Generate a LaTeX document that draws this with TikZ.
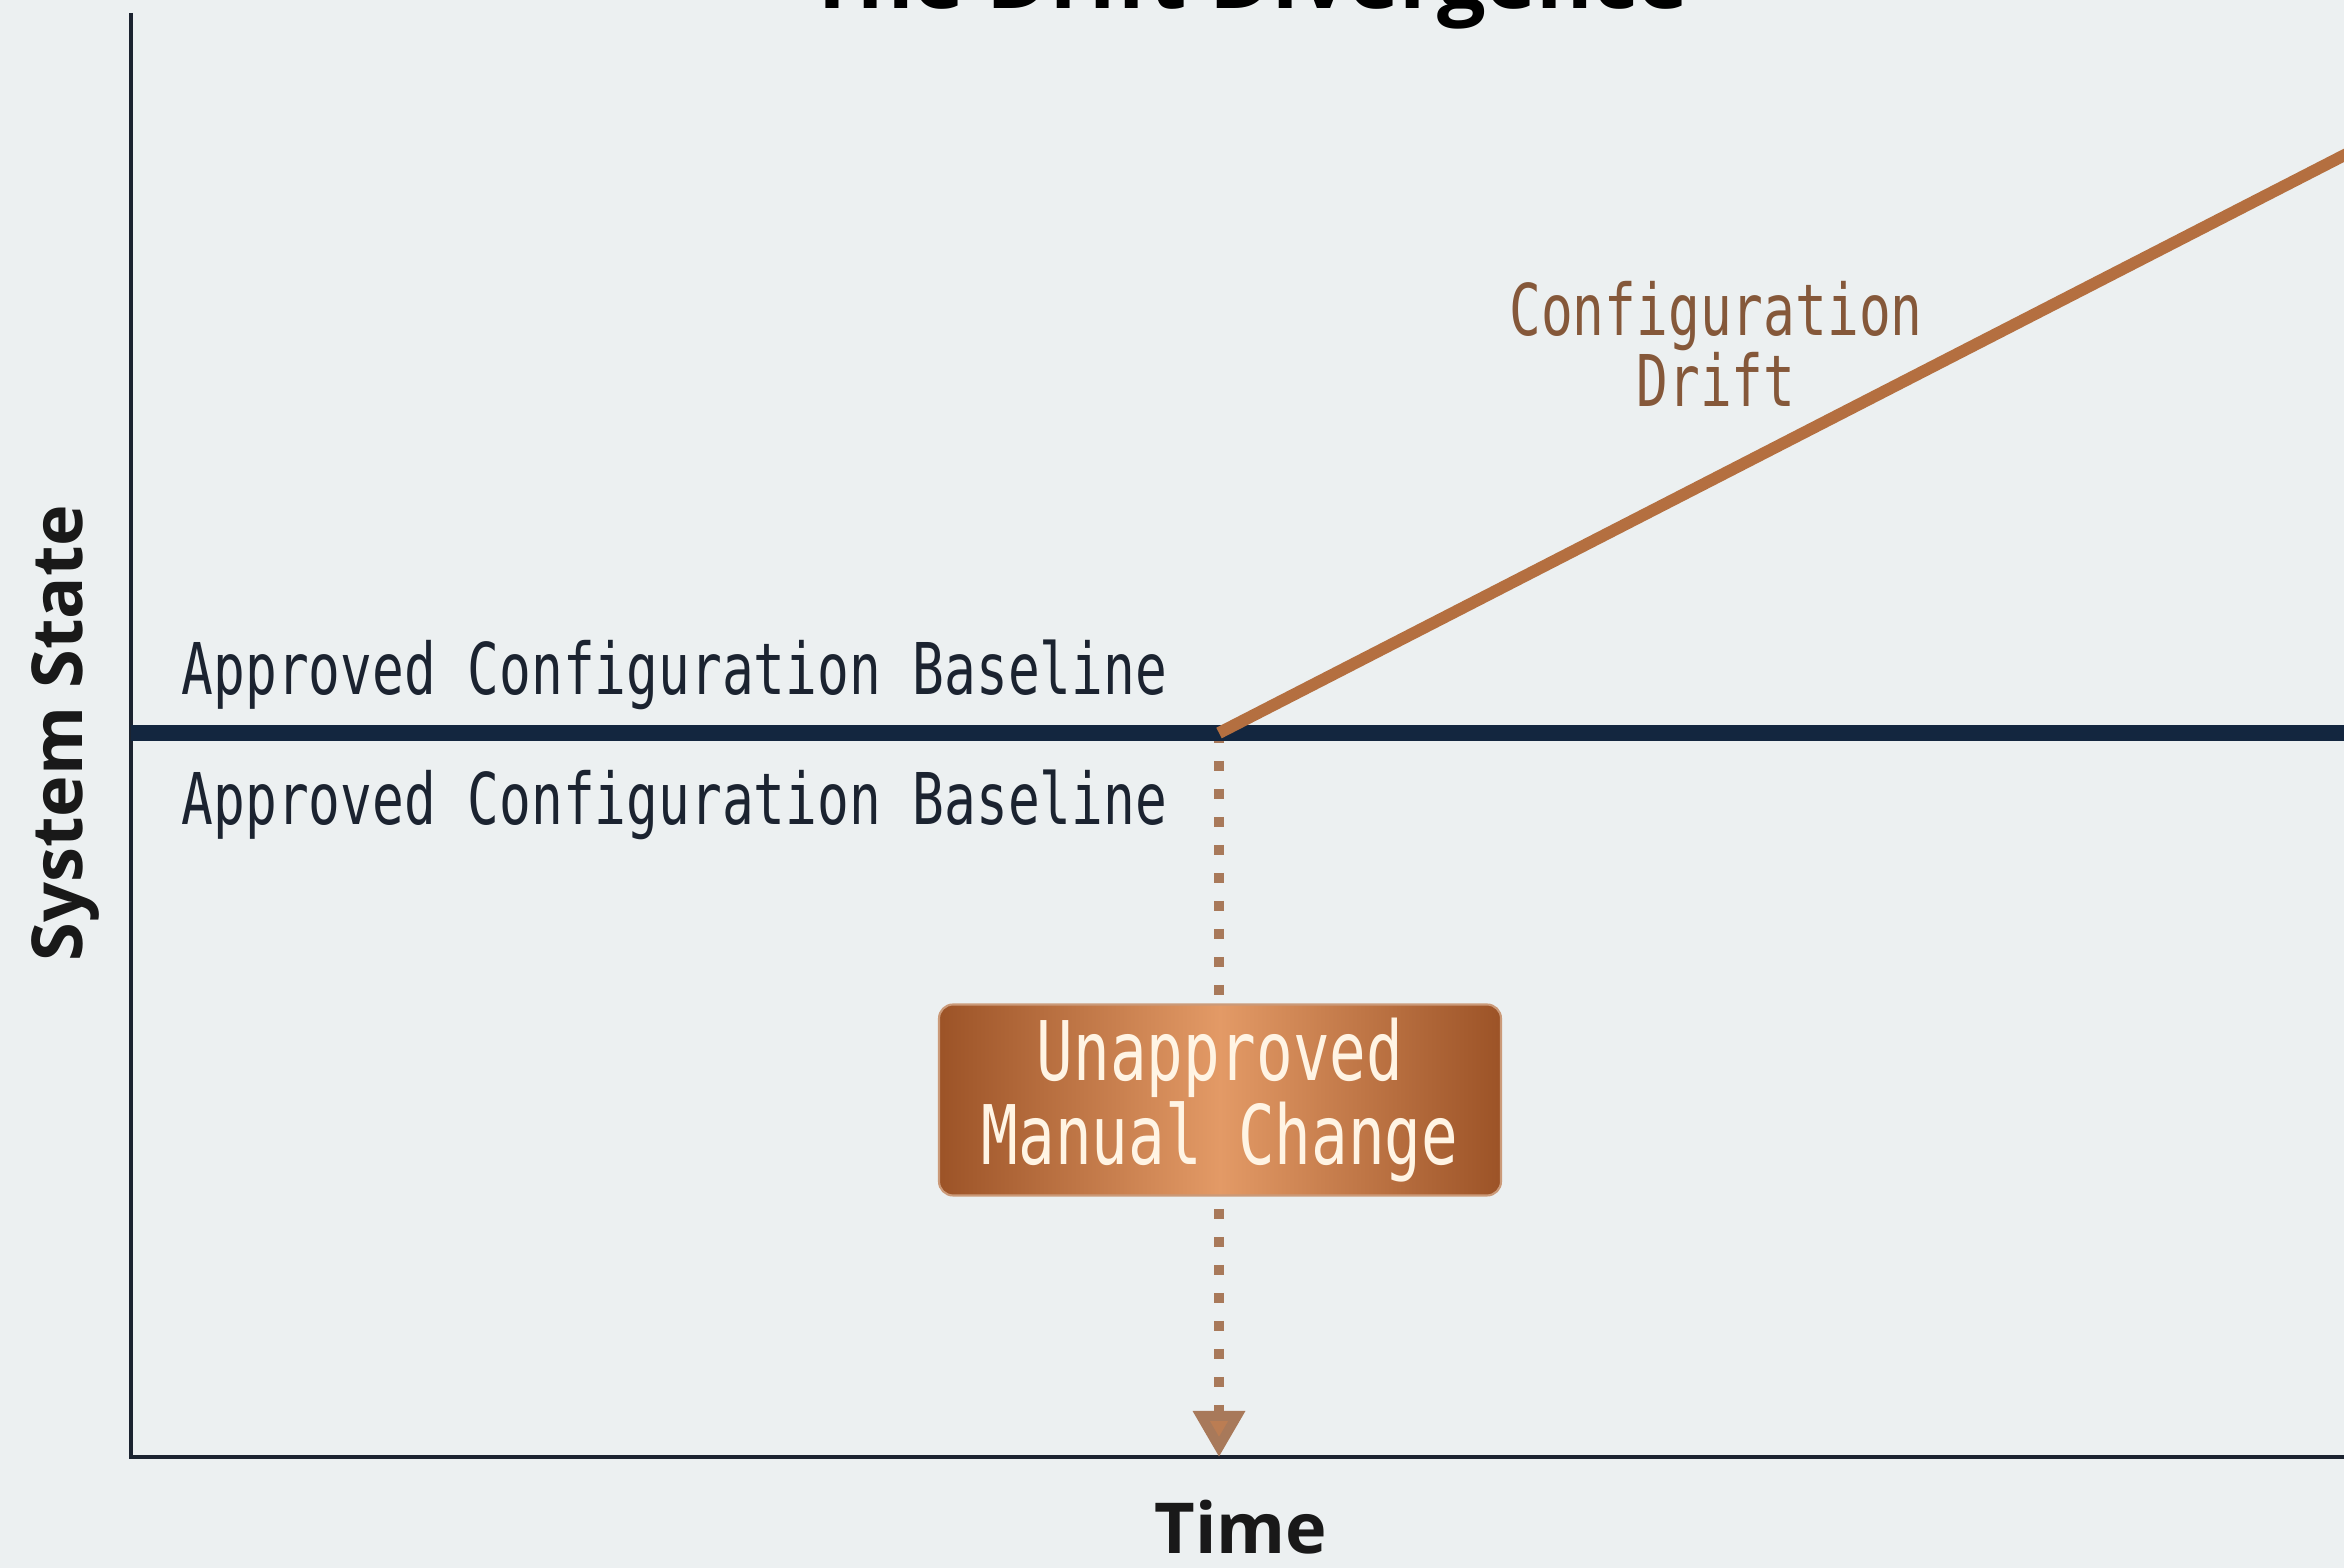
\documentclass[tikz,border=0pt]{standalone}
\usepackage{fontspec}
\setmainfont{Open Sans}
\newfontfamily\labelfont[FakeStretch=0.74]{DejaVu Sans Mono}
\usetikzlibrary{arrows.meta,positioning}
\definecolor{DriftPaper}{HTML}{ECF0F1}
\definecolor{DriftNavy}{HTML}{13263F}
\definecolor{DriftInk}{HTML}{1B2330}
\definecolor{DriftCopper}{HTML}{B46F40}
\definecolor{DriftCopperLight}{HTML}{E39A66}
\definecolor{DriftCopperDark}{HTML}{9C5327}
\definecolor{DriftDots}{HTML}{A8795A}
\definecolor{DriftBrown}{HTML}{85583A}
\definecolor{DriftCream}{HTML}{FFF4E4}

\begin{document}
\begin{tikzpicture}[
  axisline/.style={draw=DriftInk,line width=1.3pt},
  approved/.style={draw=DriftNavy,line width=4.3pt},
  drift/.style={draw=DriftCopper,line width=3.4pt},
  droplink/.style={draw=DriftDots,line width=2.8pt,dash pattern=on 0.1cm off 0.18cm,-{Triangle[width=0.5cm,length=0.46cm,fill=DriftCopper!90!white]}},
  labeltext/.style={font=\labelfont\fontsize{20.3}{20.2}\selectfont,text=DriftInk,inner sep=0pt},
  axistext/.style={font=\bfseries\fontsize{20}{24}\selectfont,text=black!90,inner sep=0pt},
  changebox/.style={draw=DriftCopper!70!white,line width=0.6pt,rounded corners=4pt,left color=DriftCopperDark,right color=DriftCopperDark,middle color=DriftCopperLight,minimum width=5.62cm,minimum height=1.91cm,align=center,text=DriftCream,font=\labelfont\fontsize{23.4}{20.5}\selectfont}]
  \path[fill=DriftPaper,use as bounding box] (0,0) rectangle (23.44,15.68);
  \node[font=\bfseries\fontsize{24.5}{28}\selectfont,anchor=base,inner sep=0pt] (title) at (12.48,15.59) {The Drift Divergence};
  \coordinate (origin) at (1.31,1.11);
  \coordinate (ytop) at (1.31,15.55);
  \coordinate (xend) at (23.6,1.11);
  \coordinate (base0) at (1.31,8.35);
  \coordinate (base1) at (23.6,8.35);
  \coordinate (fork) at (12.19,8.35);
  \coordinate (tick) at (12.19,1.11);
  \coordinate (driftend) at (23.7,14.26);
  \draw[axisline] (ytop)--(origin)--(xend);
  \draw[droplink] (fork)--(tick);
  \draw[approved] (base0)--(base1);
  \draw[drift] (fork)--(driftend);
  \node[changebox] (change) at (12.2,4.68) {Unapproved\\Manual Change};
  \node[labeltext,anchor=base west] (above) at (1.81,8.73) {Approved Configuration Baseline};
  \node[labeltext,anchor=base west] (below) at (1.81,7.43) {Approved Configuration Baseline};
  \node[labeltext,text=DriftBrown,align=center] (driftlabel) at (17.16,12.24) {Configuration\\Drift};
  \node[axistext,rotate=90,anchor=base] (ylabel) at (0.82,8.35) {System State};
  \node[axistext,anchor=base] (xlabel) at (12.41,0.14) {Time};
\end{tikzpicture}
\end{document}
